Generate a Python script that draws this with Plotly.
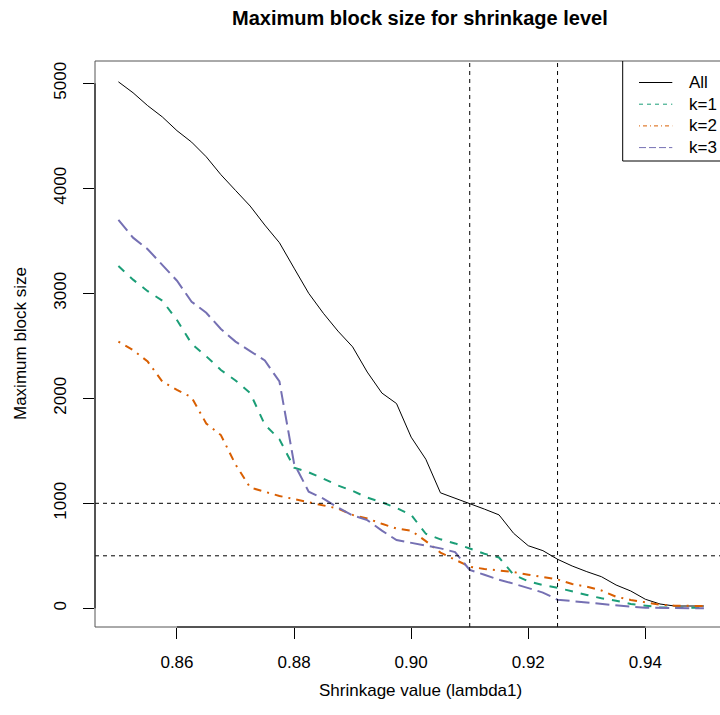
import plotly.graph_objects as go

# Shrinkage grid (lambda1) and maximum block size per setting
lambda1 = [round(0.85 + 0.0025 * i, 4) for i in range(41)]

all_blocks = [5014, 4910, 4787, 4680, 4549, 4440, 4300, 4130, 3980, 3831,
              3650, 3482, 3240, 3000, 2810, 2640, 2490, 2250, 2050, 1950,
              1630, 1420, 1100, 1050, 1000, 945, 890, 714, 596, 549,
              467, 403, 349, 301, 222, 165, 86, 41, 22, 22, 22]

k1_blocks = [3260, 3130, 3020, 2930, 2745, 2520, 2400, 2270, 2170, 2050,
             1750, 1610, 1340, 1295, 1235, 1170, 1118, 1055, 1010, 955,
             890, 710, 657, 618, 570, 520, 484, 320, 258, 222,
             196, 165, 127, 95, 72, 41, 25, 10, 5, 5, 5]

k2_blocks = [2540, 2460, 2350, 2160, 2080, 2010, 1760, 1650, 1370, 1150,
             1110, 1070, 1040, 1010, 985, 950, 890, 855, 805, 760,
             740, 640, 530, 460, 396, 375, 360, 345, 320, 300,
             275, 231, 206, 170, 110, 80, 57, 35, 25, 22, 22]

k3_blocks = [3700, 3530, 3420, 3270, 3120, 2920, 2815, 2660, 2540, 2450,
             2360, 2160, 1380, 1110, 1045, 960, 885, 840, 740, 650,
             622, 595, 571, 535, 365, 320, 272, 235, 190, 150,
             82, 68, 58, 45, 28, 15, 6, 2, 0, 0, 0]

series_names = ["All", "k=1", "k=2", "k=3"]
series_colors = ["#000000", "#1B9E77", "#D95F02", "#7570B3"]
series_widths = [1, 2, 2, 2]
series_dash = ["solid", "8px,8px", "2px,6px,8px,6px", "14px,6px"]
legend_dash = ["solid", "4px,4px", "1px,3px,4px,3px", "7px,3px"]

x_ticks = [0.86, 0.88, 0.90, 0.92, 0.94]
x_ticklabels = ["0.86", "0.88", "0.90", "0.92", "0.94"]
y_ticks = [0, 1000, 2000, 3000, 4000, 5000]
y_ticklabels = ["0", "1000", "2000", "3000", "4000", "5000"]

cutoff_lambda = [0.91, 0.925]
cutoff_size = [1000, 500]

FONT = "Liberation Sans, Arial, Helvetica, sans-serif"
W, H = 720, 715
ML, MR, MT, MB = 95, 0, 61, 88
PW, PH = W - ML - MR, H - MT - MB


def px_x(p):
    return (p - ML) / PW


def px_y(p):
    return 1 - (p - MT) / PH


fig = go.Figure()

for name, vals, col, wd, dash in zip(series_names,
                                     [all_blocks, k1_blocks, k2_blocks, k3_blocks],
                                     series_colors, series_widths, series_dash):
    fig.add_trace(go.Scatter(x=lambda1, y=vals, mode="lines", name=name,
                             line=dict(color=col, width=wd, dash=dash),
                             showlegend=False))

shapes = []
# dashed cut-off guides
for v in cutoff_lambda:
    shapes.append(dict(type="line", xref="x", yref="paper", x0=v, x1=v, y0=0, y1=1,
                       line=dict(color="black", width=1, dash="4px,4px")))
for h in cutoff_size:
    shapes.append(dict(type="line", xref="paper", yref="y", x0=0, x1=1, y0=h, y1=h,
                       line=dict(color="black", width=1, dash="4px,4px")))

# plot frame (open on the right, where the canvas ends)
frame = "#555555"
shapes.append(dict(type="line", xref="paper", yref="paper", x0=0, x1=0, y0=0, y1=1,
                   line=dict(color=frame, width=1)))
shapes.append(dict(type="line", xref="paper", yref="paper", x0=0, x1=1.02, y0=1, y1=1,
                   line=dict(color=frame, width=1)))
shapes.append(dict(type="line", xref="paper", yref="paper", x0=0, x1=1.02, y0=0, y1=0,
                   line=dict(color=frame, width=1)))
# axis lines spanning the labelled ticks
shapes.append(dict(type="line", xref="x", yref="paper", x0=x_ticks[0], x1=x_ticks[-1],
                   y0=0, y1=0, line=dict(color="black", width=1)))
shapes.append(dict(type="line", xref="paper", yref="y", x0=0, x1=0,
                   y0=y_ticks[0], y1=y_ticks[-1], line=dict(color="black", width=1)))

# legend box and keys
lg_left, lg_bottom = px_x(622.7), px_y(161)
shapes.append(dict(type="line", xref="paper", yref="paper", x0=lg_left, x1=lg_left,
                   y0=lg_bottom, y1=1, line=dict(color="black", width=1)))
shapes.append(dict(type="line", xref="paper", yref="paper", x0=lg_left, x1=1.02,
                   y0=lg_bottom, y1=lg_bottom, line=dict(color="black", width=1)))

annotations = []
for i, (name, col, dash) in enumerate(zip(series_names, series_colors, legend_dash)):
    yy = px_y(82.5 + 21.7 * i)
    shapes.append(dict(type="line", xref="paper", yref="paper",
                       x0=px_x(639), x1=px_x(672.3), y0=yy, y1=yy,
                       line=dict(color=col, width=1, dash=dash)))
    annotations.append(dict(text=name, xref="paper", yref="paper", x=px_x(687), y=yy,
                            xanchor="left", yanchor="middle", showarrow=False,
                            font=dict(family=FONT, size=17, color="black")))

annotations.append(dict(text="<b>Maximum block size for shrinkage level</b>",
                        xref="paper", yref="paper", x=px_x(420), y=px_y(18),
                        xanchor="center", yanchor="middle", showarrow=False,
                        font=dict(family=FONT, size=20, color="black")))
annotations.append(dict(text="Shrinkage value (lambda1)", xref="paper", yref="paper",
                        x=px_x(420), y=px_y(690), xanchor="center", yanchor="middle",
                        showarrow=False, font=dict(family=FONT, size=17, color="black")))
annotations.append(dict(text="Maximum block size", xref="paper", yref="paper",
                        x=px_x(20), y=px_y(344), xanchor="center", yanchor="middle",
                        textangle=-90, showarrow=False,
                        font=dict(family=FONT, size=17, color="black")))

fig.update_layout(
    width=W, height=H, autosize=False,
    margin=dict(l=ML, r=MR, t=MT, b=MB, pad=0),
    paper_bgcolor="white", plot_bgcolor="white",
    font=dict(family=FONT, size=17, color="black"),
    shapes=shapes, annotations=annotations, showlegend=False,
    xaxis=dict(range=[0.846, 0.846 + PW / 5855], showgrid=False, zeroline=False,
               showline=False, ticks="outside", ticklen=11, tickwidth=1,
               tickcolor="black", tickvals=x_ticks, ticktext=x_ticklabels,
               ticklabelstandoff=9, tickfont=dict(family=FONT, size=17)),
    yaxis=dict(range=[-178, -178 + PH / 0.105], showgrid=False, zeroline=False,
               showline=False, ticks="outside", ticklen=11, tickwidth=1,
               tickcolor="black", tickvals=y_ticks, ticktext=y_ticklabels,
               tickangle=-90, ticklabelstandoff=10, tickfont=dict(family=FONT, size=17)),
)

fig.write_html("out.html")
